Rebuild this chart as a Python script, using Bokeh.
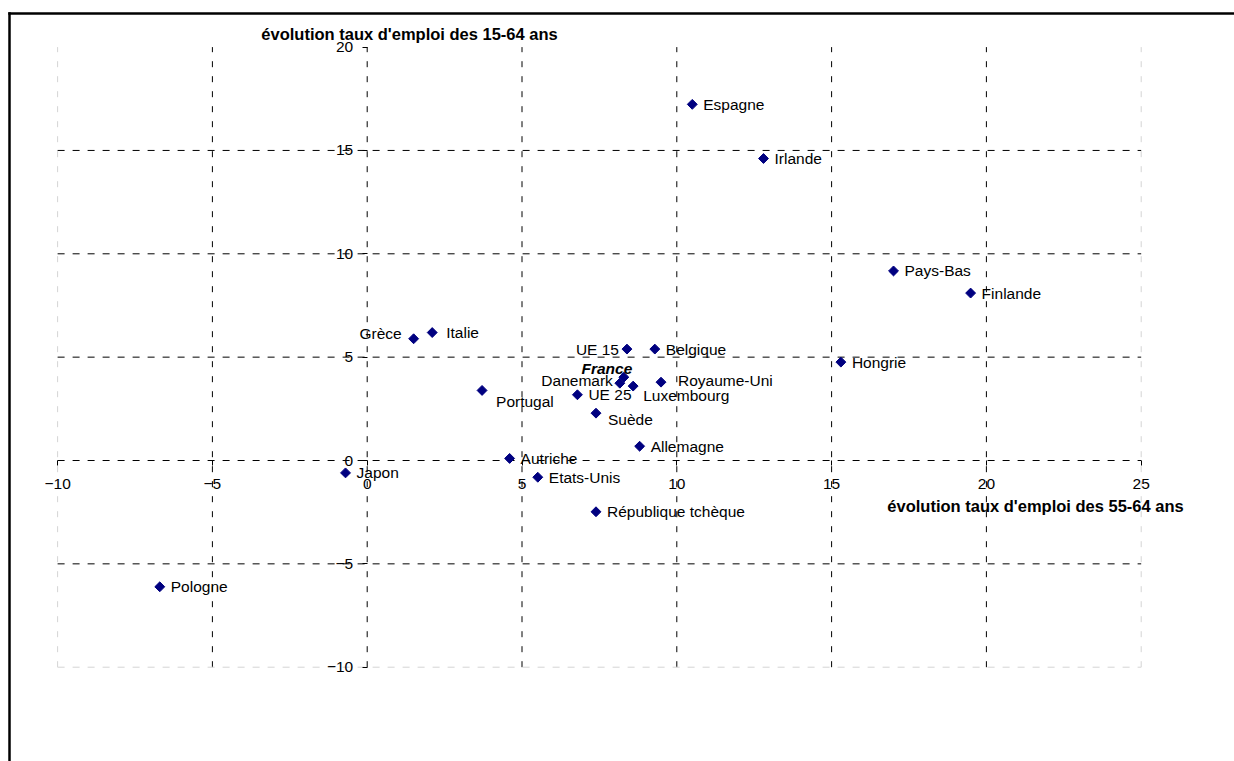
import math
from bokeh.plotting import figure
from bokeh.models import Range1d, LinearAxis, FixedTicker, Label, ColumnDataSource
from bokeh.core.properties import value
from bokeh.embed import file_html
from bokeh.resources import INLINE

# ---------------- data ----------------
countries = ["Espagne", "Irlande", "Pays-Bas", "Finlande", "Hongrie", "Grèce", "Italie",
             "UE 15", "Belgique", "France", "Danemark", "Luxembourg", "Royaume-Uni",
             "Portugal", "UE 25", "Suède", "Allemagne", "Autriche", "Etats-Unis",
             "République tchèque", "Japon", "Pologne"]
evol_55_64 = [10.50, 12.80, 17.00, 19.49, 15.30, 1.50, 2.10,
              8.39, 9.29, 8.29, 8.16, 8.59, 9.49,
              3.71, 6.79, 7.39, 8.80, 4.60, 5.51,
              7.39, -0.70, -6.70]
evol_15_64 = [17.23, 14.61, 9.17, 8.10, 4.76, 5.89, 6.19,
              5.39, 5.39, 4.03, 3.74, 3.60, 3.79,
              3.39, 3.18, 2.29, 0.69, 0.10, -0.81,
              -2.48, -0.60, -6.11]
x_ticks = [-10, -5, 0, 5, 10, 15, 20, 25]
y_ticks = [-10, -5, 0, 5, 10, 15, 20]
x_title = "évolution taux d'emploi des 55-64 ans"
y_title = "évolution taux d'emploi des 15-64 ans"

# ---------------- layout ----------------
W, H = 1234, 761
KX, KY = 30.96, 20.67          # px per unit
X0, Y0 = 366.7, 460.0          # canvas px of the origin

def data_x(cx):
    return (cx - X0) / KX

def data_y(cy):
    return (Y0 - cy) / KY

FONT = "Liberation Sans"
LABEL_SIZE = "15.5px"

p = figure(width=W, height=H, output_backend="svg", toolbar_location=None,
           x_range=Range1d(data_x(0), data_x(W)), y_range=Range1d(data_y(H), data_y(0)),
           x_axis_location=None, y_axis_location=None, min_border=0,
           outline_line_color=None, background_fill_color="white",
           border_fill_color="white")
p.xgrid.visible = False
p.ygrid.visible = False

# grid lines
xmin, xmax = min(x_ticks), max(x_ticks)
ymin, ymax = min(y_ticks), max(y_ticks)
inner_x = [t for t in x_ticks if t not in (xmin, xmax)]
outer_x = [xmin, xmax]
p.segment(x0=inner_x, y0=[ymin] * len(inner_x), x1=inner_x, y1=[ymax] * len(inner_x),
          line_color="black", line_width=1, line_dash="6 9")
p.segment(x0=outer_x, y0=[ymin] * 2, x1=outer_x, y1=[ymax] * 2,
          line_color="#d4d4d4", line_width=1, line_dash="6 9")
inner_y = [t for t in y_ticks if t not in (ymin, ymax)]
p.segment(x0=[xmin] * len(inner_y), y0=inner_y, x1=[xmax] * len(inner_y), y1=inner_y,
          line_color="black", line_width=1, line_dash="7 8")
p.segment(x0=[xmin], y0=[ymin], x1=[xmax], y1=[ymin],
          line_color="#d4d4d4", line_width=1, line_dash="7 8")

# axes crossing at the origin
common = dict(axis_line_color=None, major_tick_in=0, major_tick_out=5,
              major_tick_line_color="black", minor_tick_line_color=None,
              major_label_text_font=FONT, major_label_text_font_size=LABEL_SIZE,
              major_label_text_color="black", fixed_location=0)
xaxis = LinearAxis(ticker=FixedTicker(ticks=x_ticks), major_label_standoff=13, **common)
yaxis = LinearAxis(ticker=FixedTicker(ticks=y_ticks), major_label_standoff=9, **common)
p.add_layout(xaxis, "below")
p.add_layout(yaxis, "left")

# points
p.scatter(evol_55_64, evol_15_64, marker="square", angle=math.pi / 4, size=7,
          fill_color="#000080", line_color="#000080")

# label placement (px offsets, alignment)
placement = {
    "Grèce": (-12, -5, "right"),
    "Italie": (14, 0, "left"),
    "UE 15": (-8, 0, "right"),
    "France": (-17, -9, "center"),
    "Danemark": (-7, -3, "right"),
    "Luxembourg": (10, 9, "left"),
    "Royaume-Uni": (17, -2, "left"),
    "Portugal": (14, 11, "left"),
    "Suède": (12, 6, "left"),
}
xo, yo, al, fs = [], [], [], []
for c in countries:
    a, b, g = placement.get(c, (11, 0, "left"))
    xo.append(a)
    yo.append(b)
    al.append(g)
    fs.append("bold italic" if c == "France" else "normal")
src = ColumnDataSource(dict(x=evol_55_64, y=evol_15_64, t=countries,
                            xo=xo, yo=yo, al=al, fs=fs))
p.text(x="x", y="y", text="t", x_offset="xo", y_offset="yo", text_align="al",
       text_font_style="fs", text_baseline="middle", source=src,
       text_font=value(FONT), text_font_size=LABEL_SIZE, text_color="black")

# axis titles
p.add_layout(Label(x=data_x(409), y=data_y(33), text=y_title, text_font=FONT,
                   text_font_size="16.5px", text_font_style="bold", text_align="center",
                   text_baseline="middle", text_color="black"))
p.add_layout(Label(x=data_x(1035), y=data_y(505), text=x_title, text_font=FONT,
                   text_font_size="16.5px", text_font_style="bold", text_align="center",
                   text_baseline="middle", text_color="black"))

# chart border (left and top, meeting at the corner)
p.segment(x0=[data_x(9.0)], y0=[data_y(11.8)], x1=[data_x(9.0)], y1=[data_y(H + 5)],
          line_color="black", line_width=2.5)
p.segment(x0=[data_x(7.8)], y0=[data_y(13.0)], x1=[data_x(W + 5)], y1=[data_y(13.0)],
          line_color="black", line_width=2.5)

open("out.html", "w").write(file_html(p, INLINE))
